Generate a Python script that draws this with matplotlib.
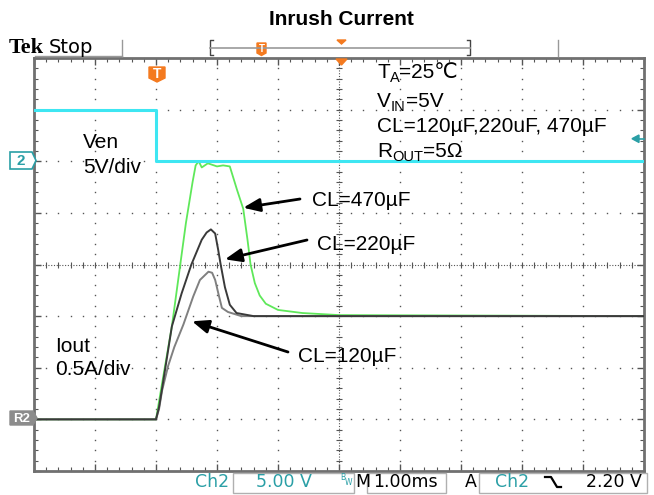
import matplotlib
matplotlib.use("Agg")
import numpy as np
import matplotlib.pyplot as plt
from matplotlib.patches import Polygon, Rectangle

# ---- scope data (time in ms relative to trigger) ----
t_ven = [-2.0, 0.0, 0.0, 8.0]
v_ven = [5.0, 5.0, 0.0, 0.0]          # Ch2, volts

t_470 = [-2.0, 0.0, 0.1, 0.26, 0.49, 0.6, 0.65, 0.7, 0.75, 0.85, 1.0, 1.1,
         1.21, 1.33, 1.43, 1.5, 1.55, 1.62, 1.7, 1.8, 2.0, 2.4, 3.0, 8.0]
i_470 = [0.0, 0.0, 0.35, 0.9, 1.9, 2.3, 2.46, 2.5, 2.44, 2.48, 2.45, 2.46,
         2.45, 2.22, 2.04, 1.74, 1.5, 1.32, 1.2, 1.12, 1.06, 1.03, 1.01, 1.0]

t_220 = [-2.0, 0.0, 0.05, 0.1, 0.18, 0.26, 0.42, 0.58, 0.75, 0.83, 0.9,
         0.97, 1.02, 1.06, 1.13, 1.21, 1.32, 1.6, 8.0]
i_220 = [0.0, 0.0, 0.12, 0.3, 0.6, 0.9, 1.22, 1.5, 1.74, 1.81, 1.84,
         1.8, 1.64, 1.5, 1.28, 1.11, 1.03, 1.0, 1.0]

t_120 = [-2.0, 0.0, 0.05, 0.1, 0.2, 0.3, 0.45, 0.61, 0.72, 0.86, 0.92,
         0.97, 1.03, 1.08, 1.18, 1.4, 8.0]
i_120 = [0.0, 0.0, 0.1, 0.28, 0.52, 0.7, 0.92, 1.19, 1.35, 1.43, 1.42,
         1.35, 1.2, 1.08, 1.04, 1.0, 1.0]

# scope settings: 1 ms/div, Ch2 5 V/div (ground at div 6), Iout 0.5 A/div (zero at div 1)
time_range = (-2.0, 8.0)
ven_range = (-30.0, 10.0)
iout_range = (-0.5, 3.5)

plt.rcParams['font.family'] = ['Liberation Sans', 'DejaVu Sans']

W, H = 654, 495
fig = plt.figure(figsize=(W / 100, H / 100), dpi=100, facecolor='white')

L, R, T, B = 34, 644, 58, 471
rect = [L / W, 1 - B / H, (R - L) / W, (B - T) / H]

# graticule (in divisions)
ax = fig.add_axes(rect, zorder=1)
ax.set_xlim(0, 10)
ax.set_ylim(0, 8)
gcol = '#555555'
xs = np.arange(0.2, 10, 0.2)
ys = np.arange(0.2, 8, 0.2)
for gx in range(1, 10):
    if gx != 5:
        ax.plot(np.full(ys.size, gx), ys, ls='none', marker='s', ms=1.0, mew=0, color=gcol)
for gy in range(1, 8):
    if gy != 4:
        ax.plot(xs, np.full(xs.size, gy), ls='none', marker='s', ms=1.0, mew=0, color=gcol)
ax.axvline(5, color=gcol, lw=0.8, ls=(0, (1, 1.5)))
ax.axhline(4, color=gcol, lw=0.8, ls=(0, (1, 1.5)))
ax.plot(xs, np.full(xs.size, 4), ls='none', marker='|', ms=5, mew=0.8, color=gcol)
ax.plot(np.full(ys.size, 5), ys, ls='none', marker='_', ms=5, mew=0.8, color=gcol)
ax.set_xticks(np.arange(0, 10.01, 1))
ax.set_xticks(np.arange(0, 10.01, 0.2), minor=True)
ax.set_yticks(np.arange(0, 8.01, 1))
ax.set_yticks(np.arange(0, 8.01, 0.2), minor=True)
ax.tick_params(which='both', direction='in', top=True, right=True,
               labelbottom=False, labelleft=False, color='#555555')
ax.tick_params(which='major', length=5, width=1)
ax.tick_params(which='minor', length=3, width=0.8)
for s in ax.spines.values():
    s.set_color('#707070')
    s.set_linewidth(2)

# current traces
ax_i = fig.add_axes(rect, zorder=2)
ax_i.set_xlim(*time_range)
ax_i.set_ylim(*iout_range)
ax_i.axis('off')
ax_i.plot(t_470, i_470, color='#5fe85a', lw=1.3)
ax_i.plot(t_120, i_120, color='#808080', lw=1.4)
ax_i.plot(t_220, i_220, color='#3a3a3a', lw=1.4)

# enable trace
ax_v = fig.add_axes(rect, zorder=3)
ax_v.set_xlim(*time_range)
ax_v.set_ylim(*ven_range)
ax_v.axis('off')
ax_v.plot(t_ven, v_ven, color='#3ee6f2', lw=2.2)

# overlay in pixel units for labels and scope decorations
ov = fig.add_axes([0, 0, 1, 1], zorder=4)
ov.set_xlim(0, W)
ov.set_ylim(H, 0)
ov.axis('off')
renderer = fig.canvas.get_renderer()


def rich(x, y, parts, **kw):
    for s, size, dy in parts:
        t = ov.text(x, y + dy, s, fontsize=size, va='baseline', ha='left', **kw)
        x += t.get_window_extent(renderer).width


teal = '#2a9fa6'
orange = '#f47a1f'

ov.text(341, 25, 'Inrush Current', fontsize=15, weight='bold', ha='center', va='baseline')
ov.text(9, 53, 'Tek', family='Liberation Serif', weight='bold', fontsize=16, va='baseline')
ov.text(49, 53, 'Stop', family='DejaVu Sans', fontsize=14, va='baseline')
ov.plot([35, 122], [55.5, 55.5], color='#999999', lw=1)
ov.plot([122, 122], [40, 55.5], color='#999999', lw=1)
ov.plot([558, 558], [40, 55.5], color='#999999', lw=1)
ov.plot([213, 210, 210, 213], [40, 40, 55, 55], color='#444444', lw=1)
ov.plot([467, 470, 470, 467], [40, 40, 55, 55], color='#444444', lw=1)
ov.plot([210, 470], [47.5, 47.5], color='#999999', lw=1.2)
ov.add_patch(Polygon([(257, 43), (266, 43), (266, 53), (261.5, 55.5), (257, 53)], fc=orange, ec=orange))
ov.text(261.5, 49, 'T', color='white', weight='bold', fontsize=7, ha='center', va='center')
ov.add_patch(Polygon([(337, 40), (346, 40), (341.5, 44)], fc=orange, ec=orange))
ov.add_patch(Polygon([(336, 59), (347, 59), (341.5, 65)], fc=orange, ec=orange))
ov.add_patch(Polygon([(149, 67), (165, 67), (165, 78), (157, 82), (149, 78)], fc=orange, ec=orange))
ov.text(157, 73.5, 'T', color='white', weight='bold', fontsize=10, ha='center', va='center')

# channel markers
ov.add_patch(Polygon([(10, 152), (32, 152), (36, 160.5), (32, 169), (10, 169)],
                     fc='white', ec=teal, lw=1.2))
ov.text(21, 161, '2', color=teal, weight='bold', fontsize=11, ha='center', va='center')
ov.add_patch(Polygon([(10, 411), (33, 411), (37, 418), (33, 425), (10, 425)],
                     fc='#8c8c8c', ec='#8c8c8c'))
ov.text(21.5, 418.5, 'R2', color='white', weight='bold', fontsize=9.5, ha='center', va='center')
ov.add_patch(Polygon([(632, 138.7), (639, 135), (639, 142.5)], fc=teal, ec=teal))
ov.plot([639, 644], [138.7, 138.7], color=teal, lw=1.2)

# labels
ov.text(83, 148, 'Ven', fontsize=15, va='baseline')
ov.text(83, 173, '5V/div', fontsize=15, va='baseline')
ov.text(55, 352, 'Iout', fontsize=15, va='baseline')
ov.text(55, 375, '0.5A/div', fontsize=15, va='baseline')

rich(377, 78, [('T', 15, 0), ('A', 10.5, 4), ('=25℃', 15, 0)])
rich(377, 106.7, [('V', 15, 0), ('IN', 10.5, 4), ('=5V', 15, 0)])
ov.text(377, 132, 'CL=120µF,220uF, 470µF', fontsize=15, va='baseline')
rich(377, 156.7, [('R', 15, 0), ('OUT', 10.5, 4), ('=5Ω', 15, 0)])

arrow = dict(arrowstyle='-|>,head_length=1.0,head_width=0.4', color='black',
             lw=2, mutation_scale=10, shrinkA=0, shrinkB=0)
ov.text(312, 206, 'CL=470µF', fontsize=15, va='baseline')
ov.annotate('', xy=(1.43, 2.05), xycoords=ax_i.transData,
            xytext=(300, 199), textcoords=ov.transData, arrowprops=arrow)
ov.text(317, 250.5, 'CL=220µF', fontsize=15, va='baseline')
ov.annotate('', xy=(1.13, 1.55), xycoords=ax_i.transData,
            xytext=(307, 240), textcoords=ov.transData, arrowprops=arrow)
ov.text(298, 362.5, 'CL=120µF', fontsize=15, va='baseline')
ov.annotate('', xy=(0.59, 0.95), xycoords=ax_i.transData,
            xytext=(288, 352), textcoords=ov.transData, arrowprops=arrow)

# status bar
sb = dict(family='DejaVu Sans', fontsize=12.5, va='baseline')
ov.text(195, 487, 'Ch2', color=teal, **sb)
ov.add_patch(Rectangle((233, 473), 121, 20, fill=False, ec='#b0b0b0', lw=1))
ov.text(256, 487, '5.00 V', color=teal, **sb)
ov.text(340, 480, 'B', color=teal, family='DejaVu Sans', fontsize=5.5, va='baseline')
ov.text(344.5, 485, 'W', color=teal, family='DejaVu Sans', fontsize=5.5, va='baseline')
ov.text(355, 487, 'M', color='black', **sb)
ov.add_patch(Rectangle((367, 473), 79, 20, fill=False, ec='#b0b0b0', lw=1))
ov.text(373, 487, '1.00ms', color='black', **sb)
ov.text(465, 487, 'A', color='black', **sb)
ov.add_patch(Rectangle((479, 473), 168, 20, fill=False, ec='#b0b0b0', lw=1))
ov.text(495, 487, 'Ch2', color=teal, **sb)
ov.plot([545, 551, 557, 561], [477, 477, 487, 487], color='black', lw=1.6)
ov.text(586, 487, '2.20 V', color='black', **sb)

fig.savefig('out.png', dpi=100, facecolor='white')
